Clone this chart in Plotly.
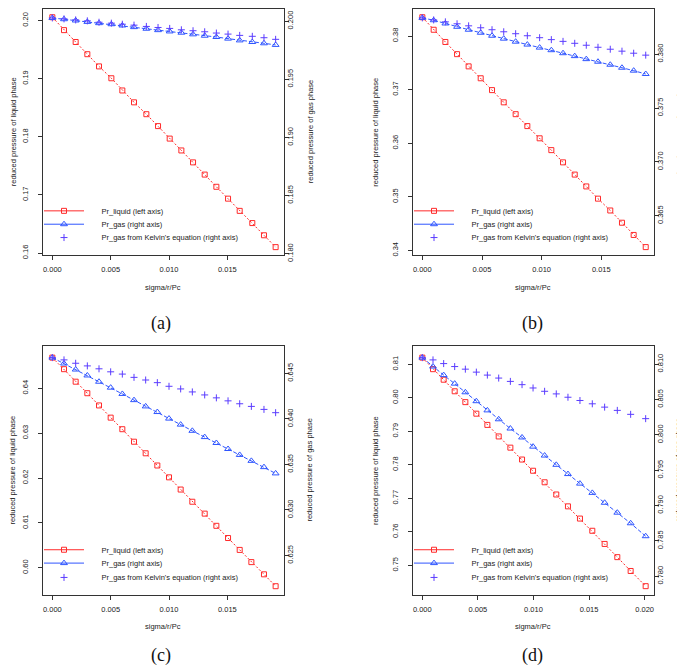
import plotly.graph_objects as go

# ---------------- data ----------------
# panel (a)
x_a = [0.0, 0.00100, 0.00200, 0.00300, 0.00400, 0.00506, 0.00600, 0.00700, 0.00806, 0.00906,
       0.01006, 0.01106, 0.01206, 0.01306, 0.01406, 0.01506, 0.01606, 0.01714, 0.01814, 0.01914]
liq_a = [0.20057, 0.19835, 0.19631, 0.19421, 0.19211, 0.19007, 0.18797, 0.18593, 0.18389, 0.18184,
         0.17969, 0.17765, 0.17560, 0.17350, 0.17140, 0.16936, 0.16726, 0.16516, 0.16306, 0.16102]
gas_a = [0.20028, 0.20017, 0.20006, 0.19994, 0.19983, 0.19974, 0.19963, 0.19949, 0.19935, 0.19923,
         0.19912, 0.19901, 0.19887, 0.19875, 0.19864, 0.19850, 0.19835, 0.19821, 0.19810, 0.19796]
kel_a = [0.20028, 0.20020, 0.20011, 0.20003, 0.19991, 0.19983, 0.19974, 0.19966, 0.19955, 0.19946,
         0.19938, 0.19926, 0.19918, 0.19909, 0.19898, 0.19889, 0.19878, 0.19870, 0.19858, 0.19844]

# panel (b)
x_b = [0.0, 0.00095, 0.00193, 0.00291, 0.00388, 0.00489, 0.00584, 0.00682, 0.00782, 0.00880,
       0.00983, 0.01081, 0.01179, 0.01277, 0.01374, 0.01472, 0.01575, 0.01673, 0.01771, 0.01872]
liq_b = [0.38351, 0.38117, 0.37889, 0.37662, 0.37434, 0.37212, 0.36991, 0.36763, 0.36542, 0.36320,
         0.36092, 0.35871, 0.35643, 0.35415, 0.35194, 0.34966, 0.34745, 0.34517, 0.34289, 0.34062]
gas_b = [0.38337, 0.38315, 0.38285, 0.38254, 0.38227, 0.38199, 0.38171, 0.38144, 0.38116, 0.38089,
         0.38061, 0.38037, 0.38009, 0.37982, 0.37954, 0.37930, 0.37902, 0.37874, 0.37847, 0.37816]
kel_b = [0.38337, 0.38318, 0.38300, 0.38282, 0.38263, 0.38245, 0.38227, 0.38208, 0.38190, 0.38171,
         0.38153, 0.38135, 0.38119, 0.38101, 0.38083, 0.38064, 0.38046, 0.38028, 0.38009, 0.37991]

# panel (c)
x_c = [0.0, 0.00100, 0.00200, 0.00300, 0.00400, 0.00500, 0.00600, 0.00700, 0.00800, 0.00900,
       0.01000, 0.01100, 0.01200, 0.01306, 0.01406, 0.01506, 0.01606, 0.01706, 0.01814, 0.01914]
liq_c = [0.64684, 0.64426, 0.64147, 0.63890, 0.63618, 0.63346, 0.63088, 0.62809, 0.62551, 0.62279,
         0.62015, 0.61743, 0.61471, 0.61206, 0.60934, 0.60662, 0.60397, 0.60125, 0.59853, 0.59588]
gas_c = [0.64674, 0.64609, 0.64543, 0.64478, 0.64409, 0.64344, 0.64275, 0.64207, 0.64138, 0.64076,
         0.64004, 0.63938, 0.63870, 0.63801, 0.63736, 0.63670, 0.63605, 0.63540, 0.63471, 0.63402]
kel_c = [0.64674, 0.64649, 0.64612, 0.64583, 0.64551, 0.64518, 0.64493, 0.64457, 0.64428, 0.64399,
         0.64359, 0.64330, 0.64297, 0.64264, 0.64232, 0.64199, 0.64167, 0.64138, 0.64105, 0.64069]

# panel (d)
x_d = [0.0, 0.00096, 0.00192, 0.00291, 0.00387, 0.00486, 0.00585, 0.00687, 0.00792, 0.00897,
       0.00996, 0.01100, 0.01205, 0.01310, 0.01418, 0.01529, 0.01640, 0.01754, 0.01874, 0.02009]
liq_d = [0.81197, 0.80852, 0.80538, 0.80193, 0.79869, 0.79525, 0.79190, 0.78846, 0.78512, 0.78157,
         0.77823, 0.77479, 0.77115, 0.76761, 0.76397, 0.76033, 0.75640, 0.75247, 0.74834, 0.74381]
gas_d = [0.81093, 0.80967, 0.80846, 0.80725, 0.80603, 0.80477, 0.80347, 0.80221, 0.80090, 0.79964,
         0.79834, 0.79708, 0.79577, 0.79446, 0.79311, 0.79180, 0.79040, 0.78900, 0.78750, 0.78567]
kel_d = [0.81093, 0.81061, 0.81009, 0.80967, 0.80930, 0.80888, 0.80846, 0.80804, 0.80757, 0.80711,
         0.80664, 0.80617, 0.80580, 0.80533, 0.80487, 0.80440, 0.80393, 0.80347, 0.80291, 0.80230]

series_names = ["Pr_liquid (left axis)", "Pr_gas (right axis)",
                "Pr_gas from Kelvin's equation (right axis)"]
panel_labels = ["(a)", "(b)", "(c)", "(d)"]
x_title = "sigma/r/Pc"
yl_title = "reduced pressure of liquid phase"
yr_title = "reduced pressure of gas phase"

# ---------------- layout / style ----------------
W, H = 685, 666
def fx(p): return p / W
def fy(p): return 1 - p / H

RED = "#ff2a2a"
BLUE = "#2f55ff"
PURP = "#5b3dff"
TXT = "#222222"
FONT = "Liberation Sans, Arial, sans-serif"
FS = 7.5
ROT_DX = -7      # correction for rotated annotation placement

panels = [
    dict(x=x_a, liq=liq_a, gas=gas_a, kel=kel_a, box=(34.5, 276, 1, 250),
         xr=[-0.000843, 0.019857], ylr=[0.159603, 0.201986], yrr=[0.179858, 0.201050],
         leg_x=41, leg_y=[210, 223.5, 237], ylt=12, yrt=309, cap=(153, 319)),
    dict(x=x_b, liq=liq_b, gas=gas_b, kel=kel_b, box=(404.5, 646, 1, 250),
         xr=[-0.000824, 0.019414], ylr=[0.339077, 0.385046], yrr=[0.361327, 0.384194],
         leg_x=411, leg_y=[210, 223.5, 237], ylt=374.5, yrt=678, cap=(524, 319)),
    dict(x=x_c, liq=liq_c, gas=gas_c, kel=kel_c, box=(34.5, 276, 342, 593),
         xr=[-0.000843, 0.019857], ylr=[0.593971, 0.649338], yrr=[0.620688, 0.647971],
         leg_x=41, leg_y=[552.5, 566, 580.5], ylt=12, yrt=309, cap=(153, 654)),
    dict(x=x_d, liq=liq_d, gas=gas_d, kel=kel_d, box=(404.5, 646, 342, 593),
         xr=[-0.000884, 0.020840], ylr=[0.741245, 0.815311], yrr=[0.777387, 0.812520],
         leg_x=411, leg_y=[552.5, 566, 580.5], ylt=374.5, yrt=678, cap=(524, 654)),
]

fig = go.Figure()
layout = dict(width=W, height=H, margin=dict(l=0, r=0, t=0, b=0),
              paper_bgcolor="white", plot_bgcolor="white", showlegend=True,
              font=dict(family=FONT, size=FS, color=TXT))
annotations = []

axis_common = dict(showgrid=False, zeroline=False, showline=True, linecolor="#333333",
                   linewidth=1, ticks="outside", ticklen=4, tickcolor="#333333",
                   tickwidth=1, tickfont=dict(family=FONT, size=FS, color=TXT))

LEG_ITEMW = 40                 # legend line sample length
LEG_OFF = 10                   # item origin -> line start (plotly internal offsets)
LEG_DY = -5                    # legend vertical correction
LEG_PAD = "\u00a0" * 6         # gap between sample and text, as in the R legend

leg_idx = 0
for i, p in enumerate(panels):
    n = i + 1
    xa = "x" if n == 1 else f"x{n}"
    yl_n = 2 * i + 1
    yr_n = 2 * i + 2
    yl = "y" if yl_n == 1 else f"y{yl_n}"
    yr = f"y{yr_n}"
    x0, x1, top, bot = p["box"]

    layout["xaxis" if n == 1 else f"xaxis{n}"] = dict(
        axis_common, domain=[fx(x0), fx(x1)], anchor=yl, range=p["xr"],
        dtick=0.005, tick0=0, tickformat=".3f", mirror=True, ticklabelstandoff=3)
    layout["yaxis" if yl_n == 1 else f"yaxis{yl_n}"] = dict(
        axis_common, domain=[fy(bot), fy(top)], anchor=xa, range=p["ylr"],
        dtick=0.01, tick0=0, tickformat=".2f", side="left", tickangle=-90,
        ticklabelstandoff=7)
    layout[f"yaxis{yr_n}"] = dict(
        axis_common, domain=[fy(bot), fy(top)], anchor=xa, overlaying=yl, range=p["yrr"],
        dtick=0.005, tick0=0, tickformat=".3f", side="right", tickangle=-90,
        ticklabelstandoff=-5)

    # data traces
    fig.add_trace(go.Scatter(x=p["x"], y=p["liq"], xaxis=xa, yaxis=yl, mode="lines+markers",
                             line=dict(color=RED, width=1, dash="2px,2px"),
                             marker=dict(symbol="square-open", size=5, color=RED,
                                         line=dict(width=1, color=RED)),
                             showlegend=False, name=series_names[0]))
    fig.add_trace(go.Scatter(x=p["x"], y=p["gas"], xaxis=xa, yaxis=yr, mode="lines+markers",
                             line=dict(color=BLUE, width=1, dash="4px,2px"),
                             marker=dict(symbol="triangle-up-open", size=6, color=BLUE,
                                         line=dict(width=1, color=BLUE)),
                             showlegend=False, name=series_names[1]))
    fig.add_trace(go.Scatter(x=p["x"], y=p["kel"], xaxis=xa, yaxis=yr, mode="markers",
                             marker=dict(symbol="cross-thin-open", size=5, color=PURP,
                                         line=dict(width=1, color=PURP)),
                             showlegend=False, name=series_names[2]))

    # legend entries (one legend each, for R-like spacing)
    styles = [
        dict(mode="lines+markers", line=dict(color=RED, width=1),
             marker=dict(symbol="square-open", size=5, color=RED, line=dict(width=1, color=RED))),
        dict(mode="lines+markers", line=dict(color=BLUE, width=1),
             marker=dict(symbol="triangle-up-open", size=6, color=BLUE, line=dict(width=1, color=BLUE))),
        dict(mode="markers",
             marker=dict(symbol="cross-thin-open", size=5, color=PURP, line=dict(width=1, color=PURP))),
    ]
    for k in range(3):
        leg_idx += 1
        lname = "legend" if leg_idx == 1 else f"legend{leg_idx}"
        fig.add_trace(go.Scatter(x=[None], y=[None], xaxis=xa, yaxis=yl,
                                 name=LEG_PAD + series_names[k],
                                 showlegend=True, legend=lname, **styles[k]))
        layout[lname] = dict(x=fx(p["leg_x"] - LEG_OFF), y=fy(p["leg_y"][k] + LEG_DY),
                             xanchor="left", yanchor="middle", bgcolor="rgba(0,0,0,0)",
                             borderwidth=0, itemwidth=LEG_ITEMW,
                             font=dict(family=FONT, size=FS, color=TXT),
                             itemclick=False, itemdoubleclick=False)

    # axis titles
    ymid = fy((top + bot) / 2)
    annotations.append(dict(text=yl_title, x=fx(p["ylt"] + ROT_DX), y=ymid, xref="paper",
                            yref="paper", textangle=-90, showarrow=False, xanchor="center",
                            yanchor="middle", font=dict(family=FONT, size=FS, color=TXT)))
    annotations.append(dict(text=yr_title, x=fx(p["yrt"] + ROT_DX), y=ymid, xref="paper",
                            yref="paper", textangle=-90, showarrow=False, xanchor="center",
                            yanchor="middle", font=dict(family=FONT, size=FS, color=TXT)))
    annotations.append(dict(text=x_title, x=fx((x0 + x1) / 2), y=fy(bot + 32), xref="paper",
                            yref="paper", showarrow=False, xanchor="center", yanchor="middle",
                            font=dict(family=FONT, size=FS, color=TXT)))
    annotations.append(dict(text=panel_labels[i], x=fx(p["cap"][0]), y=fy(p["cap"][1]),
                            xref="paper", yref="paper", showarrow=False, xanchor="center",
                            yanchor="middle",
                            font=dict(family="Liberation Serif, DejaVu Serif, serif", size=18,
                                      color="#111111")))

layout["annotations"] = annotations
fig.update_layout(**layout)
fig.write_html("out.html")
